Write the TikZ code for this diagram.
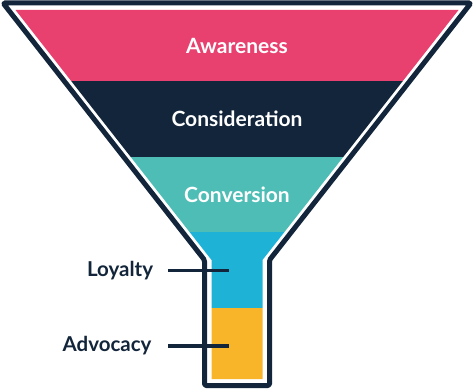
\documentclass[tikz,border=0pt]{standalone}
\usepackage{fontspec}
\setmainfont{Lato}[UprightFont=* Bold]
\definecolor{navy}{HTML}{12253A}
\definecolor{pinkc}{HTML}{E8416F}
\definecolor{tealc}{HTML}{4DBDB6}
\definecolor{bluec}{HTML}{1FB2D7}
\definecolor{yellowc}{HTML}{F8B52A}
\begin{document}
\begin{tikzpicture}[x=1pt,y=-1pt,
  bandtext/.style={text=white,font=\fontsize{21}{24}\selectfont,inner sep=0pt,anchor=base},
  sidetext/.style={text=navy,font=\fontsize{20.5}{24}\selectfont,inner sep=0pt,anchor=base east},
  leader/.style={draw=navy,line width=3.3pt},
  outline/.style={draw=navy,line width=5pt,line join=round,rounded corners=1.5pt}]
\useasboundingbox (0,0) rectangle (474,390);
% bands clipped to inner funnel
\begin{scope}
\clip (15.5,10) -- (211.5,260) -- (211.5,379) -- (262.5,379) -- (262.5,260) -- (458.5,10) -- cycle;
\fill[pinkc] (0,0) rectangle (474,81.5);
\fill[navy] (0,81.5) rectangle (474,157);
\fill[tealc] (0,157) rectangle (474,232);
\fill[bluec] (0,232) rectangle (474,308);
\fill[yellowc] (0,308) rectangle (474,390);
\end{scope}
% outline
\draw[outline] (3,3) -- (204.5,260) -- (204.5,385.5) -- (269.5,385.5) -- (269.5,260) -- (471,3) -- cycle;
% band labels
\node[bandtext] (aw) at (237,53.8) {Awareness};
\node[bandtext] (co) at (237,126.8) {Consideration};
\node[bandtext] (cv) at (237,202.1) {Conversion};
% side labels
\node[sidetext] (loy) at (153.3,276.7) {Loyalty};
\node[sidetext] (adv) at (151.7,351.7) {Advocacy};
\coordinate (loyend) at (228.5,270.5);
\coordinate (advend) at (228.5,346);
\draw[leader] (loy.base east -| 168,0) ++(0,-6.2) -- (loyend);
\draw[leader] (adv.base east -| 168,0) ++(0,-5.7) -- (advend);
\end{tikzpicture}
\end{document}
